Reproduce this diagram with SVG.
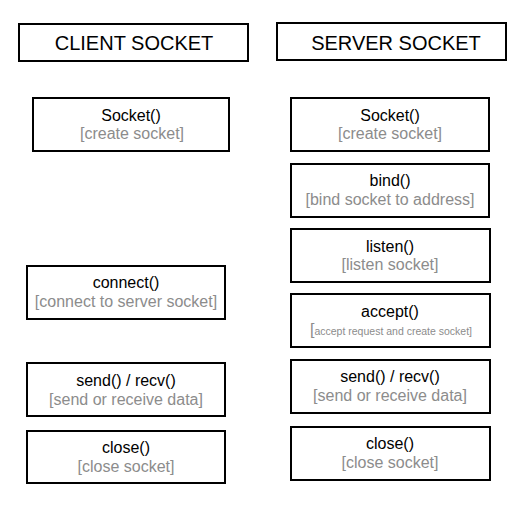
<svg xmlns="http://www.w3.org/2000/svg" width="528" height="508" viewBox="0 0 528 508">
<style>
.box{fill:#fff;stroke:#000;stroke-width:2}
.title{font-family:"Liberation Sans",Arial,sans-serif;font-size:20px;fill:#000;text-anchor:middle}
.fn{font-family:"Liberation Sans",Arial,sans-serif;font-size:16px;fill:#000;text-anchor:middle}
.desc{font-family:"Liberation Sans",Arial,sans-serif;font-size:16px;fill:#8c8c8c;text-anchor:middle}
.small{font-size:10.5px}
</style>
<rect width="528" height="508" fill="#fff"/>
<g id="connectors"></g>
<g id="client-title"><rect class="box" x="19" y="24" width="229" height="37"/><text class="title" x="134" y="50">CLIENT SOCKET</text></g>
<g id="server-title"><rect class="box" x="277" y="23" width="229" height="37"/><text class="title" x="396" y="50">SERVER SOCKET</text></g>

<g id="client-socket"><rect class="box" x="33" y="98" width="196" height="53"/><text class="fn" x="131" y="121">Socket()</text><text class="desc" x="132" y="139">[create socket]</text></g>
<g id="client-connect"><rect class="box" x="27" y="266" width="198" height="53"/><text class="fn" x="126" y="288">connect()</text><text class="desc" x="126" y="307">[connect to server socket]</text></g>
<g id="client-send"><rect class="box" x="27" y="363" width="198" height="53"/><text class="fn" x="126" y="386">send() / recv()</text><text class="desc" x="126" y="405">[send or receive data]</text></g>
<g id="client-close"><rect class="box" x="27" y="431" width="198" height="52"/><text class="fn" x="126" y="453">close()</text><text class="desc" x="126" y="472">[close socket]</text></g>

<g id="server-socket"><rect class="box" x="291" y="98" width="198" height="53"/><text class="fn" x="390" y="121">Socket()</text><text class="desc" x="390" y="139">[create socket]</text></g>
<g id="server-bind"><rect class="box" x="291" y="164" width="198" height="53"/><text class="fn" x="390" y="186">bind()</text><text class="desc" x="390" y="205">[bind socket to address]</text></g>
<g id="server-listen"><rect class="box" x="291" y="229" width="199" height="53"/><text class="fn" x="390" y="252">listen()</text><text class="desc" x="390" y="270">[listen socket]</text></g>
<g id="server-accept"><rect class="box" x="291" y="294" width="199" height="53"/><text class="fn" x="390" y="317">accept()</text><text class="desc" x="391" y="335"><tspan>[</tspan><tspan class="small">accept request and create socket]</tspan></text></g>
<g id="server-send"><rect class="box" x="291" y="360" width="199" height="53"/><text class="fn" x="390" y="382">send() / recv()</text><text class="desc" x="390" y="401">[send or receive data]</text></g>
<g id="server-close"><rect class="box" x="291" y="427" width="199" height="53"/><text class="fn" x="390" y="449">close()</text><text class="desc" x="390" y="468">[close socket]</text></g>
</svg>
